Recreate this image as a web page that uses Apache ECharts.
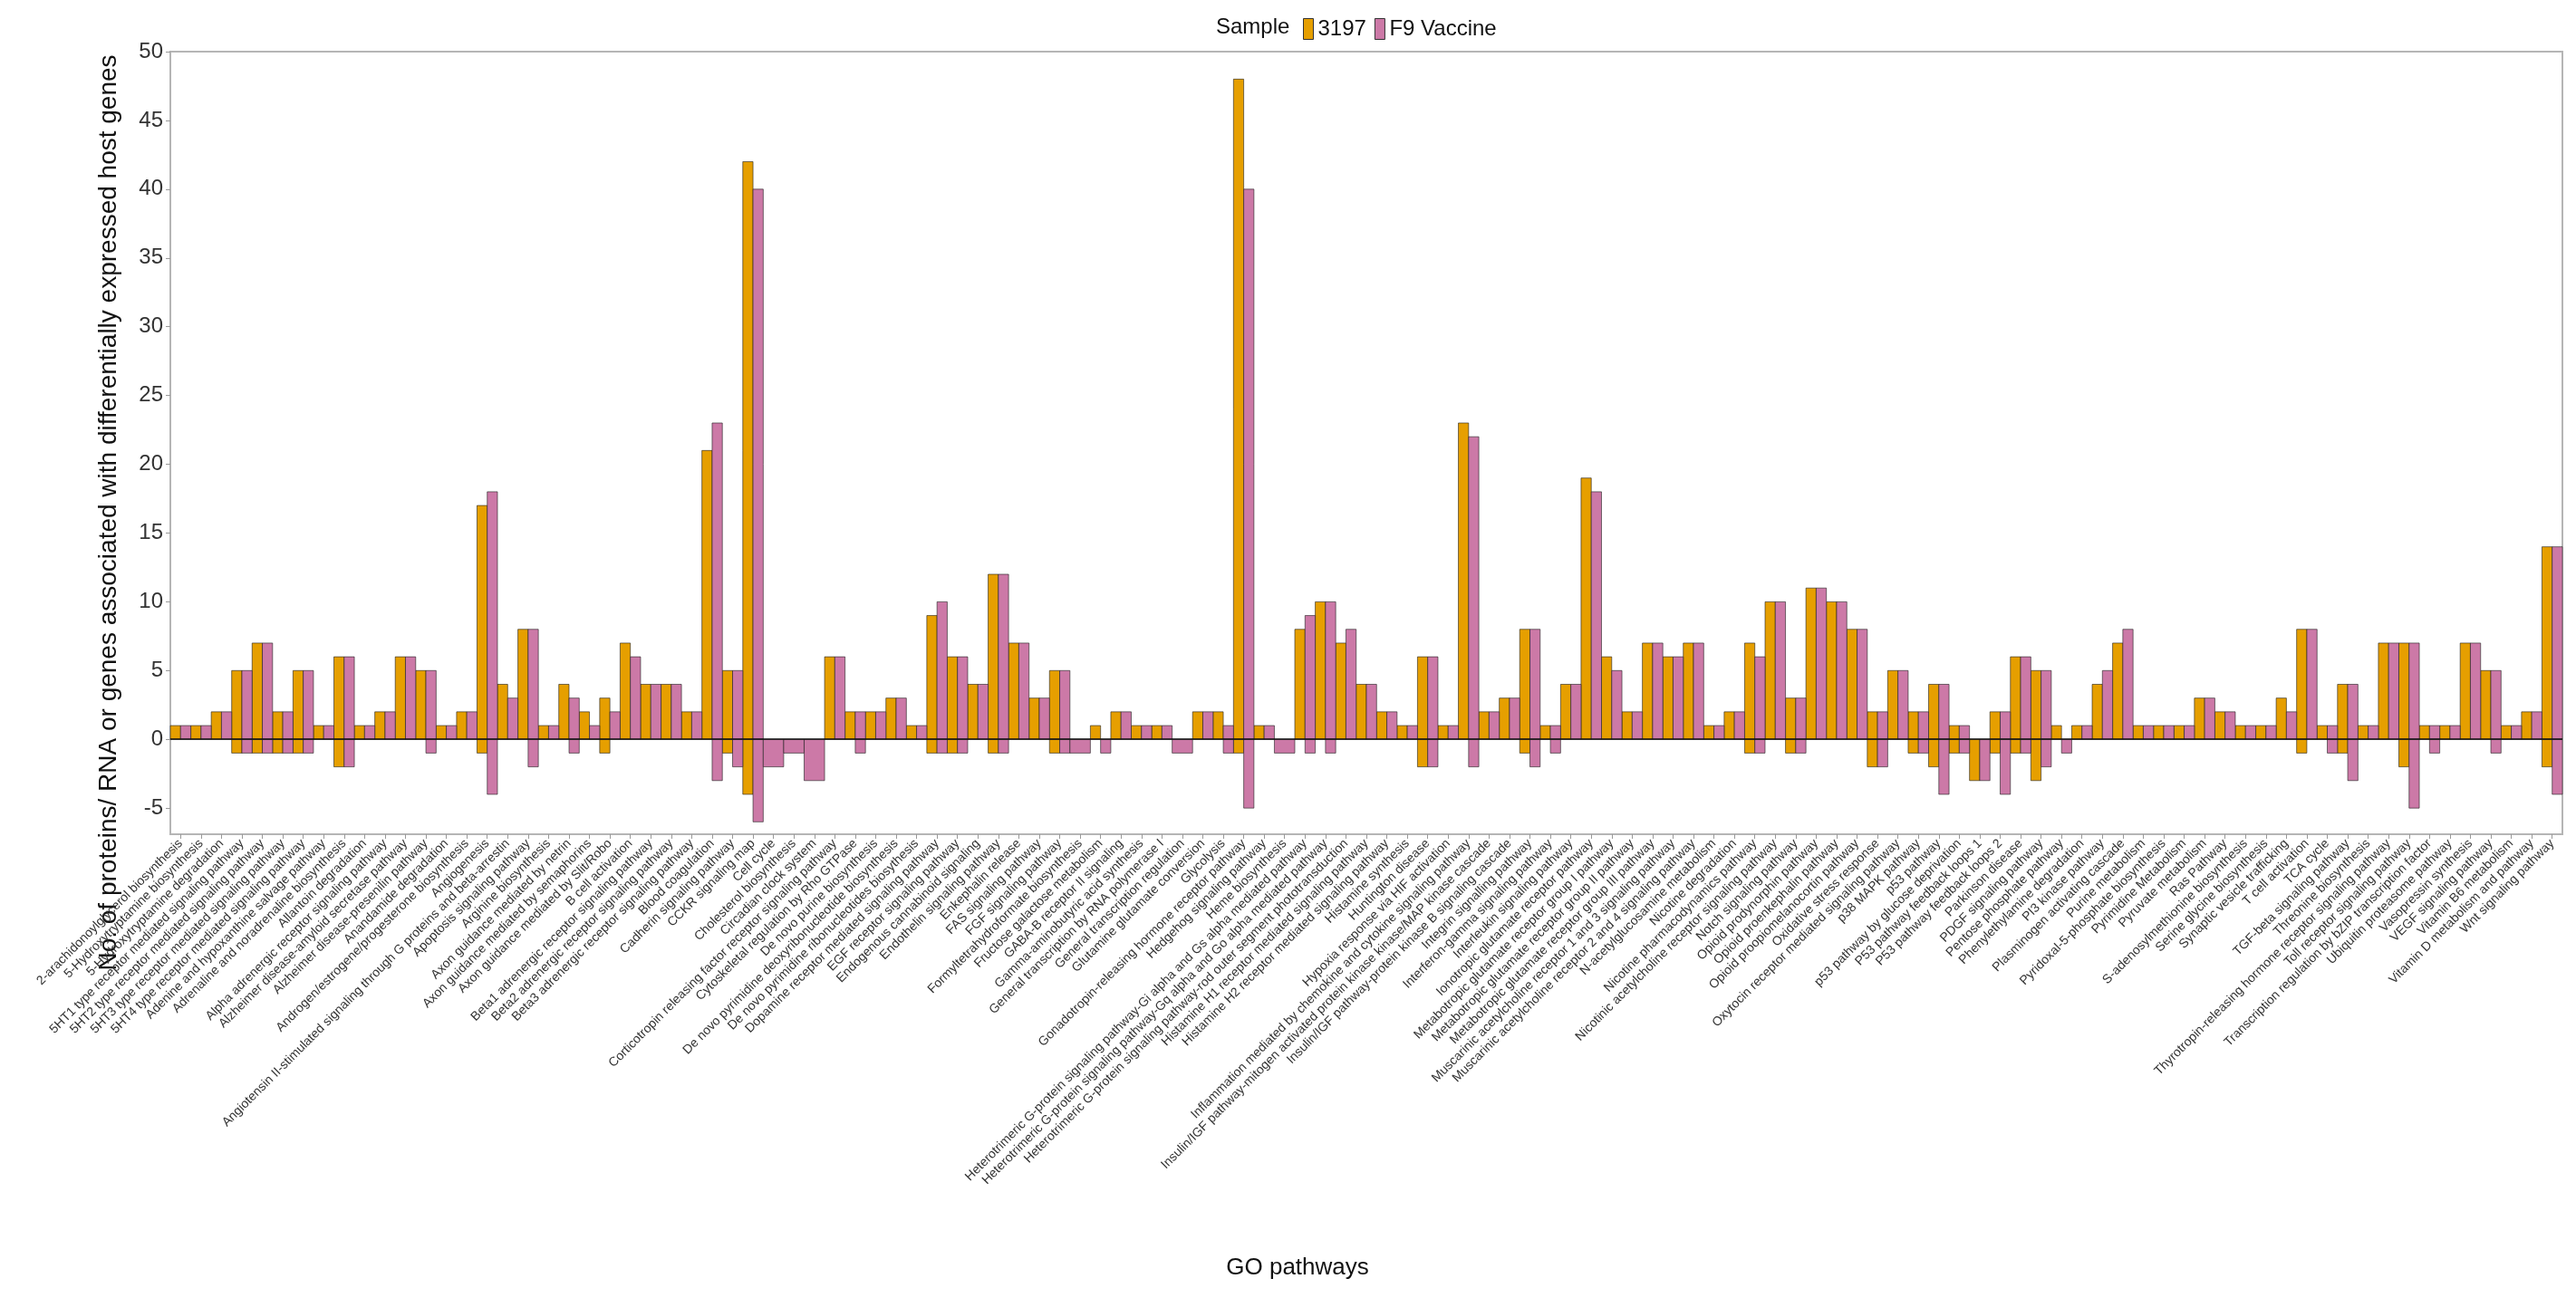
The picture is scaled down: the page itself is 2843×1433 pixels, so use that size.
<!DOCTYPE html>
<html>
<head>
<meta charset="utf-8">
<script src="https://cdn.jsdelivr.net/npm/echarts@6/dist/echarts.min.js"></script>
<style>
html,body{margin:0;padding:0;background:#fff;}
#chart{width:2843px;height:1433px;}
</style>
</head>
<body>
<div id="chart"></div>
<script>
const categories = [
"2-arachidonoylglycerol biosynthesis",
"5-Hydroxytryptamine biosynthesis",
"5-Hydroxytryptamine degradation",
"5HT1 type receptor mediated signaling pathway",
"5HT2 type receptor mediated signaling pathway",
"5HT3 type receptor mediated signaling pathway",
"5HT4 type receptor mediated signaling pathway",
"Adenine and hypoxanthine salvage pathway",
"Adrenaline and noradrenaline biosynthesis",
"Allantoin degradation",
"Alpha adrenergic receptor signaling pathway",
"Alzheimer disease-amyloid secretase pathway",
"Alzheimer disease-presenilin pathway",
"Anandamide degradation",
"Androgen/estrogene/progesterone biosynthesis",
"Angiogenesis",
"Angiotensin II-stimulated signaling through G proteins and beta-arrestin",
"Apoptosis signaling pathway",
"Arginine biosynthesis",
"Axon guidance mediated by netrin",
"Axon guidance mediated by semaphorins",
"Axon guidance mediated by Slit/Robo",
"B cell activation",
"Beta1 adrenergic receptor signaling pathway",
"Beta2 adrenergic receptor signaling pathway",
"Beta3 adrenergic receptor signaling pathway",
"Blood coagulation",
"Cadherin signaling pathway",
"CCKR signaling map",
"Cell cycle",
"Cholesterol biosynthesis",
"Circadian clock system",
"Corticotropin releasing factor receptor signaling pathway",
"Cytoskeletal regulation by Rho GTPase",
"De novo purine biosynthesis",
"De novo pyrimidine deoxyribonucleotide biosynthesis",
"De novo pyrimidine ribonucleotides biosythesis",
"Dopamine receptor mediated signaling pathway",
"EGF receptor signaling pathway",
"Endogenous cannabinoid signaling",
"Endothelin signaling pathway",
"Enkephalin release",
"FAS signaling pathway",
"FGF signaling pathway",
"Formyltetrahydroformate biosynthesis",
"Fructose galactose metabolism",
"GABA-B receptor II signaling",
"Gamma-aminobutyric acid synthesis",
"General transcription by RNA polymerase I",
"General transcription regulation",
"Glutamine glutamate conversion",
"Glycolysis",
"Gonadotropin-releasing hormone receptor pathway",
"Hedgehog signaling pathway",
"Heme biosynthesis",
"Heterotrimeric G-protein signaling pathway-Gi alpha and Gs alpha mediated pathway",
"Heterotrimeric G-protein signaling pathway-Gq alpha and Go alpha mediated pathway",
"Heterotrimeric G-protein signaling pathway-rod outer segment phototransduction",
"Histamine H1 receptor mediated signaling pathway",
"Histamine H2 receptor mediated signaling pathway",
"Histamine synthesis",
"Huntington disease",
"Hypoxia response via HIF activation",
"Inflammation mediated by chemokine and cytokine signaling pathway",
"Insulin/IGF pathway-mitogen activated protein kinase kinase/MAP kinase cascade",
"Insulin/IGF pathway-protein kinase B signaling cascade",
"Integrin signalling pathway",
"Interferon-gamma signaling pathway",
"Interleukin signaling pathway",
"Ionotropic glutamate receptor pathway",
"Metabotropic glutamate receptor group I pathway",
"Metabotropic glutamate receptor group II pathway",
"Metabotropic glutamate receptor group III pathway",
"Muscarinic acetylcholine receptor 1 and 3 signaling pathway",
"Muscarinic acetylcholine receptor 2 and 4 signaling pathway",
"N-acetylglucosamine metabolism",
"Nicotine degradation",
"Nicotine pharmacodynamics pathway",
"Nicotinic acetylcholine receptor signaling pathway",
"Notch signaling pathway",
"Opioid prodynorphin pathway",
"Opioid proenkephalin pathway",
"Opioid proopiomelanocortin pathway",
"Oxidative stress response",
"Oxytocin receptor mediated signaling pathway",
"p38 MAPK pathway",
"p53 pathway",
"p53 pathway by glucose deprivation",
"P53 pathway feedback loops 1",
"P53 pathway feedback loops 2",
"Parkinson disease",
"PDGF signaling pathway",
"Pentose phosphate pathway",
"Phenylethylamine degradation",
"PI3 kinase pathway",
"Plasminogen activating cascade",
"Purine metabolism",
"Pyridoxal-5-phosphate biosynthesis",
"Pyrimidine Metabolism",
"Pyruvate metabolism",
"Ras Pathway",
"S-adenosylmethionine biosynthesis",
"Serine glycine biosynthesis",
"Synaptic vesicle trafficking",
"T cell activation",
"TCA cycle",
"TGF-beta signaling pathway",
"Threonine biosynthesis",
"Thyrotropin-releasing hormone receptor signaling pathway",
"Toll receptor signaling pathway",
"Transcription regulation by bZIP transcription factor",
"Ubiquitin proteasome pathway",
"Vasopressin synthesis",
"VEGF signaling pathway",
"Vitamin B6 metabolism",
"Vitamin D metabolism and pathway",
"Wnt signaling pathway"
];

// upward counts (positive) per sample
const up3197 = [1,1,2,5,7,2,5,1,6,1, 2,6,5,1,2,17,4,8,1,4, 2,3,7,4,4,2,21,5,42,0, 0,0,6,2,2,3,1,9,6,4, 12,7,3,5,0,1,2,1,1,0, 2,2,48,1,0,8,10,7,4,2, 1,6,1,23,2,3,8,1,4,19, 6,2,7,6,7,1,2,7,10,3, 11,10,8,2,5,2,4,1,0,2, 6,5,1,1,4,7,1,1,1,3, 2,1,1,3,8,1,4,1,7,7, 1,1,7,5,1,2,14];
const upF9   = [1,1,2,5,7,2,5,1,6,1, 2,6,5,1,2,18,3,8,1,3, 1,2,6,4,4,2,23,5,40,0, 0,0,6,2,2,3,1,10,6,4, 12,7,3,5,0,0,2,1,1,0, 2,1,40,1,0,9,10,8,4,2, 1,6,1,22,2,3,8,1,4,18, 5,2,7,6,7,1,2,6,10,3, 11,10,8,2,5,2,4,1,0,2, 6,5,0,1,5,8,1,1,1,3, 2,1,1,2,8,1,4,1,7,7, 1,1,7,5,1,2,14];
// downward counts (negative) per sample
const down3197 = [0,0,0,-1,-1,-1,-1,0,-2,0, 0,0,0,0,0,-1,0,0,0,0, 0,-1,0,0,0,0,0,-1,-4,0, 0,0,0,0,0,0,0,-1,-1,0, -1,0,0,-1,0,0,0,0,0,0, 0,0,-1,0,0,0,0,0,0,0, 0,-2,0,0,0,0,-1,0,0,0, 0,0,0,0,0,0,0,-1,0,-1, 0,0,0,-2,0,-1,-2,-1,-3,-1, -1,-3,0,0,0,0,0,0,0,0, 0,0,0,0,-1,0,-1,0,0,-2, 0,0,0,0,0,0,-2];
const downF9   = [0,0,0,-1,-1,-1,-1,0,-2,0, 0,0,-1,0,0,-4,0,-2,0,-1, 0,0,0,0,0,0,-3,-2,-6,-2, -1,-3,0,-1,0,0,0,-1,-1,0, -1,0,0,-1,-1,-1,0,0,0,-1, 0,-1,-5,0,-1,-1,-1,0,0,0, 0,-2,0,-2,0,0,-2,-1,0,0, 0,0,0,0,0,0,0,-1,0,-1, 0,0,0,-2,0,-1,-4,-1,-3,-4, -1,-2,-1,0,0,0,0,0,0,0, 0,0,0,0,0,-1,-3,0,0,-5, -1,0,0,-1,0,0,-4];

const yTicks = [-5,0,5,10,15,20,25,30,35,40,45,50];
const sampleNames = ['3197', 'F9 Vaccine'];
const sampleColors = ['#E69F00', '#CC79A7'];
const FONT = 'Liberation Sans, Arial, Helvetica, sans-serif';

function present(up, down, i) { return up[i] !== 0 || down[i] !== 0; }

function buildData(upA, downA, upB, downB) {
  return categories.map((c, i) => [i, upA[i], downA[i], present(upB, downB, i) ? 1 : 0]);
}

function makeRender(sampleIdx) {
  return function (params, api) {
    const i = api.value(0);
    const up = api.value(1);
    const down = api.value(2);
    const shared = api.value(3);
    const band = api.size([1, 0])[0];
    const base = api.coord([i, 0]);
    const zeroY = base[1];
    let x0, w;
    if (shared) {
      w = band / 2;
      x0 = sampleIdx === 0 ? base[0] - band / 2 : base[0];
    } else {
      w = band;
      x0 = base[0] - band / 2;
    }
    const style = { fill: sampleColors[sampleIdx], stroke: 'rgba(30,30,30,0.6)', lineWidth: 1 };
    const children = [];
    if (up) {
      const y = api.coord([i, up])[1];
      children.push({ type: 'rect', shape: { x: x0, y: y, width: w, height: zeroY - y }, style: style });
    }
    if (down) {
      const y = api.coord([i, down])[1];
      children.push({ type: 'rect', shape: { x: x0, y: zeroY, width: w, height: y - zeroY }, style: style });
    }
    return { type: 'group', children: children };
  };
}

const chart = echarts.init(document.getElementById('chart'), null, { renderer: 'canvas' });
chart.setOption({
  animation: false,
  backgroundColor: '#ffffff',
  color: sampleColors,
  textStyle: { fontFamily: FONT },
  title: {
    text: 'Sample', left: 1342, top: 18, padding: 0,
    textStyle: { fontSize: 24, fontWeight: 'normal', color: '#111', fontFamily: FONT }
  },
  legend: {
    left: 1438, top: 20, padding: 0,
    itemWidth: 11, itemHeight: 23, itemGap: 9,
    icon: 'rect',
    itemStyle: { borderColor: '#333', borderWidth: 1 },
    textStyle: { fontSize: 24, color: '#111', fontFamily: FONT },
    data: sampleNames
  },
  grid: {
    left: 188, right: 15, top: 57, bottom: 512,
    show: true, borderColor: '#b5b5b5', borderWidth: 2, backgroundColor: 'transparent'
  },
  xAxis: {
    type: 'category',
    data: categories,
    name: 'GO pathways',
    nameLocation: 'middle',
    nameGap: 466,
    nameTextStyle: { fontSize: 26, color: '#111', padding: [0, 152, 0, 0], fontFamily: FONT },
    axisLine: { onZero: false, lineStyle: { color: '#b5b5b5', width: 2 } },
    axisTick: { show: true, alignWithLabel: true, length: 5, lineStyle: { color: '#999' } },
    axisLabel: { interval: 0, rotate: 45, fontSize: 14, color: '#333', margin: 8, fontFamily: FONT },
    splitLine: { show: false }
  },
  yAxis: {
    type: 'value',
    min: -6.9, max: 50,
    name: 'No. of proteins/ RNA or genes associated with differentially expressed host genes',
    nameLocation: 'middle',
    nameGap: 54,
    nameTextStyle: { fontSize: 28, color: '#111', padding: [0, 154, 0, 0], fontFamily: FONT },
    axisLine: { show: true, lineStyle: { color: '#b5b5b5', width: 2 } },
    axisTick: { show: true, length: 5, customValues: yTicks, lineStyle: { color: '#999' } },
    axisLabel: { fontSize: 24, color: '#333', margin: 8, customValues: yTicks, fontFamily: FONT },
    splitLine: { show: false }
  },
  series: [
    {
      name: sampleNames[0],
      type: 'custom',
      itemStyle: { color: sampleColors[0] },
      renderItem: makeRender(0),
      encode: { x: 0, y: [1, 2] },
      data: buildData(up3197, down3197, upF9, downF9),
      z: 2
    },
    {
      name: sampleNames[1],
      type: 'custom',
      itemStyle: { color: sampleColors[1] },
      renderItem: makeRender(1),
      encode: { x: 0, y: [1, 2] },
      data: buildData(upF9, downF9, up3197, down3197),
      z: 2,
      markLine: {
        silent: true,
        symbol: ['none', 'none'],
        label: { show: false },
        lineStyle: { color: '#111', width: 1.5, type: 'solid' },
        data: [{ yAxis: 0 }],
        z: 5
      }
    }
  ]
});
</script>
</body>
</html>
